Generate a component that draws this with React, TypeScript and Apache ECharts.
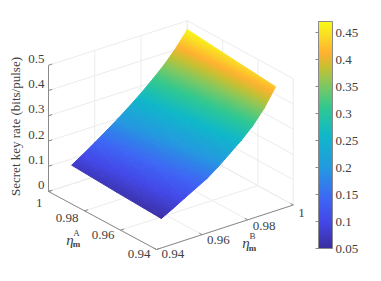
import React, { useEffect, useRef } from "react";
import * as echarts from "echarts";

const aValues = [0.95, 0.975, 1];
const bValues = [0.95, 0.955, 0.96, 0.965, 0.97, 0.975, 0.98, 0.985, 0.99, 0.995, 1];
const rateAt095 = [0.055, 0.079, 0.105, 0.13, 0.155, 0.188, 0.225, 0.262, 0.305, 0.36, 0.43];
const rateAt0975 = [0.064, 0.091, 0.119, 0.147, 0.177, 0.211, 0.248, 0.286, 0.329, 0.381, 0.447];
const rateAt100 = [0.075, 0.104, 0.135, 0.167, 0.2, 0.235, 0.272, 0.312, 0.355, 0.405, 0.465];
const rates = [rateAt095, rateAt0975, rateAt100];

const etaTicks = [0.94, 0.96, 0.98, 1];
const etaLabels = ["0.94", "0.96", "0.98", "1"];
const rateTicks = [0, 0.1, 0.2, 0.3, 0.4, 0.5];
const rateLabels = ["0", "0.1", "0.2", "0.3", "0.4", "0.5"];

const colorMin = 0.05;
const colorMax = 0.47;
const colorStops: [number, string][] = [
  [0, "#3a2d9e"],
  [0.12, "#4348e8"],
  [0.22, "#3e66f5"],
  [0.35, "#2498e0"],
  [0.5, "#0fb8c8"],
  [0.62, "#30c890"],
  [0.72, "#80c860"],
  [0.8, "#c8c030"],
  [0.86, "#ffb030"],
  [0.93, "#fad825"],
  [1, "#f9fb15"],
];

const SERIF = "Liberation Serif";
const TEXT = "#404040";
const AXIS = "#8a8a8a";
const GRID = "#ececec";

// projection of the 3-D box onto the page
const corner00 = [156.5, 249.5];
const corner10 = [48.5, 191.5];
const corner01 = [293.3, 205];
const corner11 = [187.3, 147];
const zScale = 252.5;

function project(A: number, B: number, Z: number) {
  const a = (A - 0.94) / 0.06;
  const b = (B - 0.94) / 0.06;
  const f = (i: number) =>
    corner00[i] * (1 - a) * (1 - b) + corner10[i] * a * (1 - b) + corner01[i] * (1 - a) * b + corner11[i] * a * b;
  return [f(0), f(1) - Z * zScale];
}

function hex(c: string) {
  return [1, 3, 5].map((i) => parseInt(c.slice(i, i + 2), 16));
}
function colorAt(v: number) {
  const t = Math.min(1, Math.max(0, (v - colorMin) / (colorMax - colorMin)));
  for (let i = 1; i < colorStops.length; i++) {
    if (t <= colorStops[i][0]) {
      const [t0, c0] = colorStops[i - 1];
      const [t1, c1] = colorStops[i];
      const u = (t - t0) / (t1 - t0);
      const p = hex(c0);
      const q = hex(c1);
      return `rgb(${p.map((x, k) => Math.round(x + (q[k] - x) * u)).join(",")})`;
    }
  }
  return colorStops[colorStops.length - 1][1];
}

function triFill(p: number[][], v: number[]) {
  const det = (p[1][0] - p[0][0]) * (p[2][1] - p[0][1]) - (p[2][0] - p[0][0]) * (p[1][1] - p[0][1]);
  const d1 = v[1] - v[0];
  const d2 = v[2] - v[0];
  const gx = (d1 * (p[2][1] - p[0][1]) - d2 * (p[1][1] - p[0][1])) / det;
  const gy = (d2 * (p[1][0] - p[0][0]) - d1 * (p[2][0] - p[0][0])) / det;
  const g2 = gx * gx + gy * gy;
  const vMin = Math.min(...v);
  const vMax = Math.max(...v);
  if (g2 < 1e-12 || vMax - vMin < 1e-9) return colorAt(vMin);
  const s = p[v.indexOf(vMin)];
  const k = (vMax - vMin) / g2;
  const stops = [];
  for (let i = 0; i <= 8; i++) {
    const u = i / 8;
    stops.push({ offset: u, color: colorAt(vMin + (vMax - vMin) * u) });
  }
  return new echarts.graphic.LinearGradient(s[0], s[1], s[0] + gx * k, s[1] + gy * k, stops, true);
}

function buildOption() {
  const top = rateTicks[rateTicks.length - 1];
  const low = etaTicks[0];
  const high = etaTicks[etaTicks.length - 1];
  const gridSegs: number[][] = [];
  rateTicks.forEach((z) => {
    gridSegs.push([high, low, z, high, high, z]);
    gridSegs.push([low, high, z, high, high, z]);
  });
  etaTicks.forEach((t) => {
    gridSegs.push([high, t, 0, high, t, top]);
    gridSegs.push([t, high, 0, t, high, top]);
    gridSegs.push([t, low, 0, t, high, 0]);
    gridSegs.push([low, t, 0, high, t, 0]);
  });
  const axisSegs: number[][] = [
    [high, low, 0, high, low, top],
    [low, low, 0, high, low, 0],
    [low, low, 0, low, high, 0],
  ];
  rateTicks.forEach((z) => axisSegs.push([high, low, z, high, low + 0.0016, z]));
  etaTicks.forEach((t) => {
    axisSegs.push([t, low, 0, t, low + 0.0016, 0]);
    axisSegs.push([low, t, 0, low + 0.0016, t, 0]);
  });

  const segRender = (color: string) => (_: any, api: any) => {
    const s = [0, 1, 2, 3, 4, 5].map((i) => api.value(i));
    const p = api.coord(project(s[0], s[1], s[2]));
    const q = api.coord(project(s[3], s[4], s[5]));
    return {
      type: "line",
      shape: { x1: p[0], y1: p[1], x2: q[0], y2: q[1] },
      style: { stroke: color, lineWidth: 1, fill: null },
      silent: true,
    };
  };

  const surfaceRows: number[][] = [];
  aValues.forEach((A, i) => bValues.forEach((B, j) => surfaceRows.push([A, B, rates[i][j], i, j])));

  const surfaceRender = (_: any, api: any) => {
    const i = api.value(3);
    const j = api.value(4);
    if (i >= aValues.length - 1 || j >= bValues.length - 1) return { type: "group", children: [] };
    const pt = (m: number, n: number) => api.coord(project(aValues[m], bValues[n], rates[m][n]));
    const p = [pt(i, j), pt(i + 1, j), pt(i + 1, j + 1), pt(i, j + 1)];
    const v = [rates[i][j], rates[i + 1][j], rates[i + 1][j + 1], rates[i][j + 1]];
    const tri = (ids: number[]) => {
      const pp = ids.map((k) => p[k]);
      const fill = triFill(pp, ids.map((k) => v[k]));
      return {
        type: "polygon",
        shape: { points: pp },
        style: { fill, stroke: fill, lineWidth: 1, lineJoin: "round" },
        silent: true,
      };
    };
    return { type: "group", children: [tri([0, 1, 2]), tri([0, 2, 3])] };
  };

  const tickLabelRows: any[] = [];
  rateTicks.forEach((z, i) => tickLabelRows.push([high, low, z, -4, -7, rateLabels[i], "right"]));
  etaTicks.forEach((t, i) => {
    const a = (t - low) / (high - low);
    tickLabelRows.push([t, low, 0, -6, 4 + 6.5 * a * a, etaLabels[i], "right"]);
    const b = a;
    tickLabelRows.push([low, t, 0, 5, 4 + 3 * b * b, etaLabels[i], "left"]);
  });
  const labelRender = (_: any, api: any) => {
    const p = api.coord(project(api.value(0), api.value(1), api.value(2)));
    return {
      type: "text",
      x: p[0] + api.value(3),
      y: p[1] + api.value(4),
      style: {
        text: String(api.value(5)),
        fill: TEXT,
        fontFamily: SERIF,
        fontSize: 13,
        align: String(api.value(6)),
        verticalAlign: "middle",
      },
      silent: true,
    };
  };

  const barGradient = new echarts.graphic.LinearGradient(
    0,
    1,
    0,
    0,
    colorStops.map(([t, c]) => ({ offset: t, color: c }))
  );

  const dims = (n: number) => Array.from({ length: n }, (_, i) => `d${i}`);
  const txt = (text: string, x: number, y: number, size: number, extra: any = {}) => ({
    type: "text",
    x,
    y,
    style: { text, fill: TEXT, fontFamily: SERIF, fontSize: size, align: "center", verticalAlign: "middle", ...extra },
  });

  return {
    animation: false,
    backgroundColor: "#fff",
    grid: [
      { left: 0, right: 0, top: 0, bottom: 0, show: false },
      { left: 318.5, width: 14, top: 21.5, height: 227, show: true, backgroundColor: "transparent", borderColor: AXIS, borderWidth: 1, z: 5 },
    ],
    xAxis: [
      { type: "value", gridIndex: 0, min: 0, max: 381, show: false },
      { type: "value", gridIndex: 1, min: 0, max: 1, show: false },
    ],
    yAxis: [
      { type: "value", gridIndex: 0, min: 0, max: 281, inverse: true, show: false },
      {
        type: "value",
        gridIndex: 1,
        min: colorMin,
        max: colorMax,
        interval: 0.05,
        position: "right",
        splitLine: { show: false },
        axisLine: { show: true, lineStyle: { color: AXIS, width: 1 } },
        axisTick: { show: true, inside: true, length: 3, lineStyle: { color: AXIS } },
        axisLabel: {
          show: true,
          margin: 3,
          color: TEXT,
          fontFamily: SERIF,
          fontSize: 13,
          showMaxLabel: false,
          formatter: (v: number) => String(Number(v.toFixed(2))),
        },
      },
    ],
    series: [
      { type: "custom", name: "grid", coordinateSystem: "cartesian2d", xAxisIndex: 0, yAxisIndex: 0, clip: false, silent: true, z: 1, dimensions: dims(6), encode: { x: 0, y: 1 }, data: gridSegs, renderItem: segRender(GRID) },
      { type: "custom", name: "axes", coordinateSystem: "cartesian2d", xAxisIndex: 0, yAxisIndex: 0, clip: false, silent: true, z: 2, dimensions: dims(6), encode: { x: 0, y: 1 }, data: axisSegs, renderItem: segRender(AXIS) },
      { type: "custom", name: "surface", coordinateSystem: "cartesian2d", xAxisIndex: 0, yAxisIndex: 0, clip: false, silent: true, z: 3, dimensions: dims(5), encode: { x: 0, y: 1 }, data: surfaceRows, renderItem: surfaceRender },
      {
        type: "custom",
        name: "labels",
        coordinateSystem: "cartesian2d",
        xAxisIndex: 0,
        yAxisIndex: 0,
        clip: false,
        silent: true,
        z: 4,
        dimensions: [
          { name: "d0", type: "number" },
          { name: "d1", type: "number" },
          { name: "d2", type: "number" },
          { name: "d3", type: "number" },
          { name: "d4", type: "number" },
          { name: "d5", type: "ordinal" },
          { name: "d6", type: "ordinal" },
        ],
        encode: { x: 0, y: 1 },
        data: tickLabelRows,
        renderItem: labelRender,
      },
      {
        type: "custom",
        name: "colorbar",
        coordinateSystem: "cartesian2d",
        xAxisIndex: 1,
        yAxisIndex: 1,
        silent: true,
        z: 3,
        data: [[0, colorMin, 1, colorMax]],
        encode: { x: [0, 2], y: [1, 3] },
        renderItem: (_: any, api: any) => {
          const p = api.coord([api.value(0), api.value(1)]);
          const q = api.coord([api.value(2), api.value(3)]);
          return {
            type: "rect",
            shape: { x: p[0], y: q[1], width: q[0] - p[0], height: p[1] - q[1] },
            style: { fill: barGradient },
            silent: true,
          };
        },
      },
    ],
    graphic: [
      { ...txt("Secret key rate (bits/pulse)", 15, 126.5, 13), rotation: Math.PI / 2 },
      txt("η", 70, 240, 15, { fontStyle: "italic" }),
      txt("A", 76.5, 232.5, 9),
      txt("m", 76.5, 244, 9, { fontWeight: "bold" }),
      txt("η", 246, 243, 15, { fontStyle: "italic" }),
      txt("B", 252.5, 236, 9),
      txt("m", 252.5, 247.5, 9, { fontWeight: "bold" }),
    ],
  };
}

export default function App() {
  const ref = useRef<HTMLDivElement>(null);
  useEffect(() => {
    document.body.style.margin = "0";
    const chart = echarts.init(ref.current!, null, { renderer: "svg" });
    chart.setOption(buildOption() as any);
    return () => chart.dispose();
  }, []);
  return <div ref={ref} style={{ width: 381, height: 281 }} />;
}
